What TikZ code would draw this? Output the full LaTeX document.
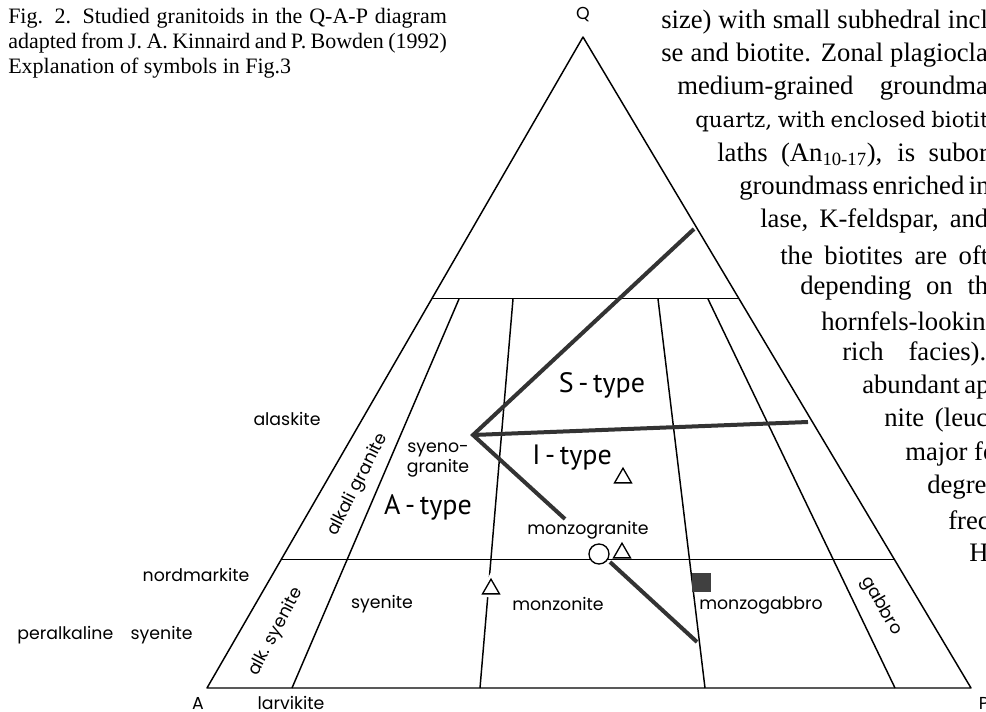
\documentclass[tikz,border=0pt]{standalone}
\usepackage{fontspec}
\setmainfont{Liberation Serif}
\newfontfamily\lblfont{Poppins}
\newfontfamily\typefont{PT Sans}
\newfontfamily\oldserif{DejaVu Serif}
\usetikzlibrary{calc, shapes.geometric}
\newcommand{\cutline}[2]{\makebox[#1pt][s]{#2}}

\begin{document}
\begin{tikzpicture}[x=0.75pt, y=-0.75pt,
  every node/.style={inner sep=0pt},
  edge/.style={line width=1.1pt, line join=round},
  trend/.style={line width=3pt, draw=black!80, line join=miter},
  lbl/.style={font=\lblfont\fontsize{13}{15}\selectfont},
  typ/.style={font=\typefont\fontsize{21}{24}\selectfont},
  body/.style={font=\fontsize{20}{24}\selectfont, anchor=west},
  captxt/.style={font=\fontsize{16.5}{19}\selectfont, anchor=west},
  tri/.style={regular polygon, regular polygon sides=3, draw, fill=white,
    line width=1pt, minimum size=14.7pt}]
  \useasboundingbox (0,0) rectangle (986,712); %page

  % caption
  \node[captxt] (cap1) at (8,18) {\makebox[329pt][s]{Fig. 2. Studied granitoids in the Q-A-P diagram}};
  \node[captxt] (cap2) at (8,43) {\makebox[329pt][s]{adapted from J. A. Kinnaird and P. Bowden (1992)}};
  \node[captxt] (cap3) at (8,68) {Explanation of symbols in Fig.3};

  % page text on the right
  \node[body] (txt0) at (661,22) {\cutline{245}{size) with small subhedral incl}};
  \node[body] (txt1) at (661,55) {\cutline{245}{se and biotite. Zonal plagiocla}};
  \node[body] (txt2) at (677,88) {\cutline{233}{medium-grained groundma}};
  \node[body, font=\oldserif\fontsize{16}{20}\selectfont] (txt3) at (695,122) {\cutline{220}{quartz, with enclosed biotit}};
  \node[body] (txt4) at (717,155) {\cutline{203}{laths (An\textsubscript{10-17}), is subor}};
  \node[body] (txt5) at (739,188) {\cutline{187}{groundmass enriched in}};
  \node[body] (txt6) at (760,221) {\cutline{171}{lase, K-feldspar, and}};
  \node[body] (txt7) at (780,255) {\cutline{156}{the biotites are oft}};
  \node[body] (txt8) at (800,288) {\cutline{141}{depending on th}};
  \node[body] (txt9) at (821,321) {\cutline{125}{hornfels-lookin}};
  \node[body] (txt10) at (842,354) {\cutline{108}{rich facies).}};
  \node[body] (txt11) at (862,387) {\cutline{95}{abundant ap}};
  \node[body] (txt12) at (884,420) {\cutline{78}{nite (leuc}};
  \node[body] (txt13) at (905,454) {major fo};
  \node[body] (txt14) at (927,487) {degre};
  \node[body] (txt15) at (948,520) {frec};
  \node[body] (txt16) at (969,553) {H};

  % QAP triangle
  \coordinate (A) at (207,688); %A
  \coordinate (P) at (971,688); %P
  \coordinate (Q) at (583,37); %Q
  \draw[edge] (A)--(P)--(Q)--cycle;
  \coordinate (Q60L) at ($(A)!0.598!(Q)$); %Q=60
  \coordinate (Q60R) at ($(P)!0.598!(Q)$);
  \coordinate (Q20L) at ($(A)!0.197!(Q)$); %Q=20
  \coordinate (Q20R) at ($(P)!0.197!(Q)$);
  \draw[edge] (Q60L)--(Q60R);
  \draw[edge] (Q20L)--(Q20R);
  \coordinate (B10) at (292,688); \coordinate (T10) at (459,299); %P=10
  \coordinate (B35) at (480,688); \coordinate (T35) at (513,299); %P=35
  \coordinate (B65) at (705,688); \coordinate (T65) at (658,299); %P=65
  \coordinate (B90) at (895,688); \coordinate (T90) at (708,299); %P=90
  \draw[edge] (B10)--(T10);
  \draw[edge] (B35)--(T35);
  \draw[edge] (B65)--(T65);
  \draw[edge] (B90)--(T90);

  % granitoid trends
  \coordinate (Stop) at (694,229);
  \coordinate (V) at (473,435);
  \coordinate (Mend) at (565,519);
  \coordinate (IS) at (808,422);
  \coordinate (Cs) at (610,562);
  \coordinate (Ce) at (697,642);
  \draw[trend] (Stop)--(V)--(Mend);
  \draw[trend] (V)--(IS);
  \draw[trend] (Cs)--(Ce);

  % symbols
  \node[tri] (tri1) at (623,478) {};
  \node[tri] (tri2) at (622,553) {};
  \node[tri, preaction={draw=white, line width=5pt}] (tri3) at (491,589) {};
  \node[circle, draw, fill=white, line width=1pt, minimum size=15pt] (circ) at (599,554) {};
  \node[fill=black!75, minimum size=14pt] (sq) at (701.5,582.5) {};

  % corner labels
  \node[lbl] (lQ) at (583,15) {Q};
  \node[lbl] (lA) at (198,703) {A};
  \node[lbl] (lP) at (984,703) {P};

  % field labels
  \node[lbl] (larv) at (291,703) {larvikite};
  \node[lbl] (nord) at (196,575) {nordmarkite};
  \node[lbl] (peral) at (105,635) {peralkaline\hspace{13pt}syenite};
  \node[lbl] (alas) at (287,419) {alaskite};
  \node[lbl, rotate=63] (alkgr) at (358,485) {alkali granite};
  \node[lbl, rotate=62] (alksy) at (276,632) {alk. syenite};
  \node[lbl, align=center] (syeno) at (438,460) {syeno-\\granite};
  \node[lbl] (monzgr) at (588,530) {monzogranite};
  \node[lbl] (syen) at (382,604) {syenite};
  \node[lbl] (monz) at (558,604) {monzonite};
  \node[lbl] (monzgb) at (761,605) {monzogabbro};
  \node[lbl, rotate=-60] (gab) at (881,606) {gabbro};
  \node[typ] (Atype) at (428,507) {A\,-\,type};
  \node[typ] (Stype) at (602,385) {S\,-\,type};
  \node[typ] (Itype) at (572,458) {I\,-\,type};
\end{tikzpicture}
\end{document}
